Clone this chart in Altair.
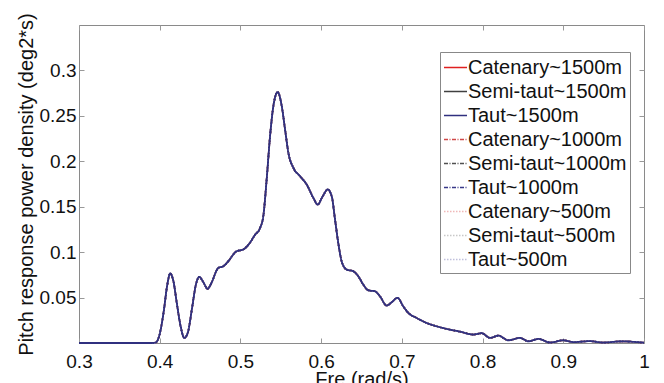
import altair as alt
import pandas as pd

freq = [0.30, 0.39, 0.395, 0.400, 0.405, 0.409, 0.413, 0.417, 0.421, 0.426, 0.4305, 0.435,
        0.440, 0.445, 0.449, 0.454, 0.4593, 0.464, 0.4726, 0.4788, 0.484, 0.4953, 0.5035,
        0.5098, 0.518, 0.5243, 0.5284, 0.5325, 0.5367, 0.5408, 0.5462, 0.5512, 0.5553,
        0.5594, 0.5656, 0.5738, 0.5821, 0.5903, 0.5957, 0.602, 0.6081, 0.6131, 0.6172,
        0.6212, 0.6254, 0.6316, 0.6398, 0.646, 0.6522, 0.6584, 0.6667, 0.6729, 0.6811,
        0.6873, 0.6947, 0.7017, 0.708, 0.7183, 0.7307, 0.7432, 0.7556, 0.772, 0.7886,
        0.7989, 0.8092, 0.8195, 0.832, 0.8464, 0.8567, 0.8691, 0.8836, 0.9001, 0.9125,
        0.933, 0.9496, 0.972, 1.0]
psd = [0.0, 0.0, 0.0005, 0.010, 0.035, 0.062, 0.0765, 0.068, 0.045, 0.018, 0.0056, 0.012,
       0.038, 0.065, 0.0728, 0.067, 0.0596, 0.066, 0.0827, 0.0845, 0.089, 0.101, 0.1029,
       0.108, 0.119, 0.1265, 0.140, 0.18, 0.2276, 0.2607, 0.2761, 0.2607, 0.235,
       0.2094, 0.1928, 0.1836, 0.1744, 0.1598, 0.1524, 0.1616, 0.169, 0.1616, 0.1359,
       0.1102, 0.0900, 0.0808, 0.079, 0.0735, 0.0643, 0.058, 0.0569, 0.0514, 0.0412,
       0.0448, 0.0497, 0.0404, 0.0331, 0.0276, 0.0221, 0.0184, 0.0155, 0.0125, 0.0093,
       0.0108, 0.0056, 0.0081, 0.0030, 0.0056, 0.0019, 0.0045, 0.0005, 0.0030, 0.0010,
       0.0020, 0.0005, 0.0018, 0.0003]

series = ["Catenary~1500m", "Semi-taut~1500m", "Taut~1500m",
          "Catenary~1000m", "Semi-taut~1000m", "Taut~1000m",
          "Catenary~500m", "Semi-taut~500m", "Taut~500m"]
colors = ["#e02020", "#404040", "#30307f",
          "#d04848", "#505050", "#383888",
          "#f0b8b8", "#c8c8c8", "#c0c0dc"]
dashes = [[1, 0], [1, 0], [1, 0],
          [4, 1.5, 1, 1.5], [4, 1.5, 1, 1.5], [4, 1.5, 1, 1.5],
          [1.5, 1.5], [1.5, 1.5], [1.5, 1.5]]
x_ticks = [0.3, 0.4, 0.5, 0.6, 0.7, 0.8, 0.9, 1.0]
y_ticks = [0.05, 0.1, 0.15, 0.2, 0.25, 0.3]

rows = []
for s in series:
    for f, p in zip(freq, psd):
        rows.append({"series": s, "fre": f, "psd": p})
df = pd.DataFrame(rows)

FONT = "Liberation Sans"
xscale = alt.Scale(domain=[0.3, 1.0], nice=False, zero=False)
yscale = alt.Scale(domain=[0, 0.35], nice=False)

color = alt.Color("series:N", scale=alt.Scale(domain=series, range=colors),
                  legend=alt.Legend(title=None, orient="none", legendX=361, legendY=27,
                                    symbolType="stroke", symbolSize=529, symbolStrokeWidth=1.3,
                                    labelFont=FONT, labelFontSize=20, labelColor="#111",
                                    labelOffset=0, rowPadding=1, padding=3,
                                    strokeColor="#888", fillColor="white", cornerRadius=0))
dash = alt.StrokeDash("series:N", scale=alt.Scale(domain=series, range=dashes),
                      legend=alt.Legend(title=None))

base = alt.Chart(df)

others = base.transform_filter(alt.datum.series != "Taut~1500m").mark_line(
    interpolate="monotone", strokeWidth=1.6).encode(
    x=alt.X("fre:Q", scale=xscale,
            axis=alt.Axis(title="Fre (rad/s)", values=x_ticks,
                          format=".1~f", orient="bottom", domain=False, offset=-5,
                          tickSize=5, tickColor="#999", labelPadding=9, labelFlush=False,
                          grid=False, labelFont=FONT, labelFontSize=19, labelColor="#111",
                          titleFont=FONT, titleFontSize=20, titleFontWeight="normal",
                          titleColor="#111", titlePadding=-2)),
    y=alt.Y("psd:Q", scale=yscale,
            axis=alt.Axis(title="Pitch response power density (deg2*s)",
                          values=y_ticks, format=".2~f",
                          orient="left", domain=False, offset=-5, tickSize=5, tickColor="#999",
                          labelPadding=3, labelFlush=False, grid=False, labelFont=FONT,
                          labelFontSize=19, labelColor="#111", titleFont=FONT,
                          titleFontSize=20, titleFontWeight="normal", titleColor="#111",
                          titlePadding=3)),
    color=color,
    strokeDash=dash,
    detail="series:N",
)

taut = base.transform_filter(alt.datum.series == "Taut~1500m").mark_line(
    interpolate="monotone", strokeWidth=1.8).encode(
    x=alt.X("fre:Q", scale=xscale, axis=None),
    y=alt.Y("psd:Q", scale=yscale, axis=None),
    color=color,
    strokeDash=dash,
)

mirror = base.transform_filter(alt.datum.series == "Taut~1500m").mark_line(opacity=0).encode(
    x=alt.X("fre:Q", scale=xscale,
            axis=alt.Axis(title=None, labels=False, orient="top", domain=False, offset=-5,
                          tickSize=5, tickColor="#999", grid=False, values=x_ticks)),
    y=alt.Y("psd:Q", scale=yscale,
            axis=alt.Axis(title=None, labels=False, orient="right", domain=False, offset=-5,
                          tickSize=5, tickColor="#999", grid=False, values=y_ticks)),
)

chart = alt.layer(others, taut, mirror).resolve_axis(
    x="independent", y="independent"
).properties(
    width=565, height=318,
    autosize="none",
    padding={"left": 79, "top": 25, "right": 20, "bottom": 40},
    background="white",
).configure_view(stroke="#8a8a8a", strokeWidth=1)

chart.save("out.html", embed_options={"renderer": "svg", "actions": False})
